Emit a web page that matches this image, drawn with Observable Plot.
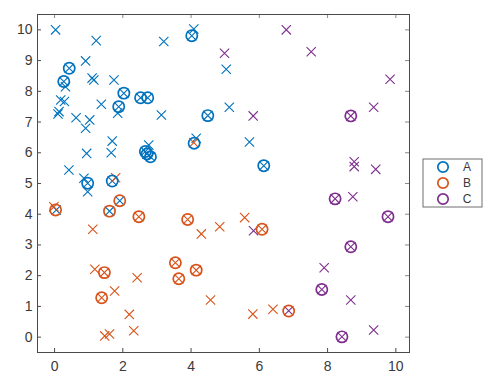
<!DOCTYPE html>
<html>
<head>
<meta charset="utf-8">
<script src="https://cdn.jsdelivr.net/npm/d3@7"></script>
<script src="https://cdn.jsdelivr.net/npm/@observablehq/plot@0.6"></script>
<style>
  html, body { margin: 0; padding: 0; background: #fff; }
  #chart { position: relative; width: 493px; height: 385px; }
</style>
</head>
<body>
<div id="chart"></div>
<script>
// Class labels and colours
const classes = ["A", "B", "C"];
const colors = ["#0072BD", "#D95319", "#7E2F8E"];

// "x" markers per class
const crossAx = [0.03,1.22,3.20,4.08,4.02,0.91,0.43,1.10,1.15,0.27,0.32,1.74,2.03,2.52,2.73,0.18,0.29,0.13,0.10,1.37,1.88,1.85,0.63,1.03,0.91,3.13,4.49,1.69,4.15,0.94,1.66,2.76,2.66,2.71,2.81,0.42,0.86,0.97,0.97,1.69,5.03,5.12,5.71,6.13,0.05,1.91,1.61];
const crossAy = [10.0,9.65,9.62,10.03,9.81,8.99,8.75,8.43,8.37,8.32,8.15,8.37,7.94,7.79,7.79,7.72,7.67,7.34,7.26,7.58,7.50,7.29,7.14,7.07,6.80,7.23,7.21,6.38,6.47,5.98,6.00,6.25,6.04,5.96,5.87,5.44,5.17,5.01,4.73,5.08,8.72,7.48,6.35,5.58,4.14,4.44,4.10];
const crossBx = [-0.02,1.79,4.08,2.47,3.90,4.84,4.30,1.12,1.18,1.46,3.54,4.15,3.64,2.42,1.76,1.38,4.57,2.19,2.32,1.47,1.61,5.57,6.08,5.81,6.40];
const crossBy = [4.24,5.19,6.33,3.92,3.83,3.59,3.36,3.51,2.21,2.10,2.42,2.18,1.90,1.93,1.50,1.28,1.21,0.74,0.21,0.04,0.10,3.89,3.51,0.75,0.91];
const crossCx = [6.79,4.98,7.52,9.83,9.35,8.68,5.82,8.78,8.78,9.41,8.22,8.74,9.77,5.83,8.68,7.90,7.83,8.68,6.86,8.42,9.35];
const crossCy = [10.0,9.24,9.29,8.39,7.48,7.20,7.20,5.71,5.55,5.46,4.50,4.57,3.92,3.46,2.94,2.26,1.55,1.21,0.86,0.01,0.23];

// circle markers per class
const ringAx = [4.02,0.43,0.27,2.03,2.52,2.73,1.88,4.49,2.66,2.71,2.81,0.97,1.69,6.13,4.09];
const ringAy = [9.81,8.75,8.32,7.94,7.79,7.79,7.50,7.21,6.04,5.96,5.87,5.01,5.08,5.58,6.31];
const ringBx = [0.03,1.91,1.61,2.47,3.90,6.08,1.46,3.54,4.15,3.64,1.38,6.86];
const ringBy = [4.14,4.44,4.10,3.92,3.83,3.51,2.10,2.42,2.18,1.90,1.28,0.85];
const ringCx = [8.68,8.22,9.77,8.68,7.83,8.42];
const ringCy = [7.20,4.50,3.92,2.94,1.55,0.01];

// tick labels
const xTicks = [0, 2, 4, 6, 8, 10];
const yTicks = [0, 1, 2, 3, 4, 5, 6, 7, 8, 9, 10];

const toRows = (xs, ys, cls) => xs.map((x, i) => ({x, y: ys[i], cls}));
const crosses = [
  ...toRows(crossAx, crossAy, "A"),
  ...toRows(crossBx, crossBy, "B"),
  ...toRows(crossCx, crossCy, "C")
];
const rings = [
  ...toRows(ringAx, ringAy, "A"),
  ...toRows(ringBx, ringBy, "B"),
  ...toRows(ringCx, ringCy, "C")
];

const axisColor = "#4a4a4a";
const textColor = "#3a3a3a";

const plot = Plot.plot({
  width: 493,
  height: 385,
  marginLeft: 37,
  marginRight: 84,
  marginTop: 14,
  marginBottom: 33,
  style: {fontFamily: "'Liberation Sans', Arial, sans-serif", fontSize: "14px", color: textColor, background: "#fff"},
  x: {domain: [-0.5, 10.4], ticks: xTicks, label: null},
  y: {domain: [-0.5, 10.5], ticks: yTicks, label: null},
  color: {domain: classes, range: colors},
  marks: [
    Plot.axisX(xTicks, {anchor: "bottom", tickSize: 0, tickPadding: 9, fill: textColor, fontSize: 14, label: null}),
    Plot.axisY(yTicks, {anchor: "left", tickSize: 0, tickPadding: 5, fill: textColor, fontSize: 14, label: null}),
    // inward tick marks on all four sides
    Plot.ruleX(xTicks, {x: d => d, insetTop: 334, stroke: axisColor}),
    Plot.ruleX(xTicks, {x: d => d, insetBottom: 334, stroke: "#888"}),
    Plot.ruleY(yTicks, {y: d => d, insetRight: 368, stroke: axisColor}),
    Plot.ruleY(yTicks, {y: d => d, insetLeft: 368, stroke: "#888"}),
    Plot.dot(crosses, {x: "x", y: "y", stroke: "cls", symbol: "times", r: 4.3, strokeWidth: 1.1}),
    Plot.dot(rings, {x: "x", y: "y", stroke: "cls", symbol: "circle", r: 5.6, strokeWidth: 1.7}),
    Plot.frame({stroke: axisColor, strokeWidth: 1})
  ]
});

document.getElementById("chart").appendChild(plot);

// legend box on the right
const svg = d3.select(plot);
const lg = svg.append("g").attr("transform", "translate(423,159)");
lg.append("rect").attr("x", 0).attr("y", 0).attr("width", 59).attr("height", 48)
  .attr("fill", "#fff").attr("stroke", "#6e6e6e").attr("stroke-width", 1);
classes.forEach((c, i) => {
  lg.append("circle").attr("cx", 20).attr("cy", 8 + i * 16).attr("r", 5.2)
    .attr("fill", "none").attr("stroke", colors[i]).attr("stroke-width", 1.7);
  lg.append("text").attr("x", 44).attr("y", 8 + i * 16).attr("dy", "0.35em")
    .attr("fill", textColor).attr("font-size", 12)
    .attr("font-family", "'Liberation Sans', Arial, sans-serif").text(c);
});
</script>
</body>
</html>
